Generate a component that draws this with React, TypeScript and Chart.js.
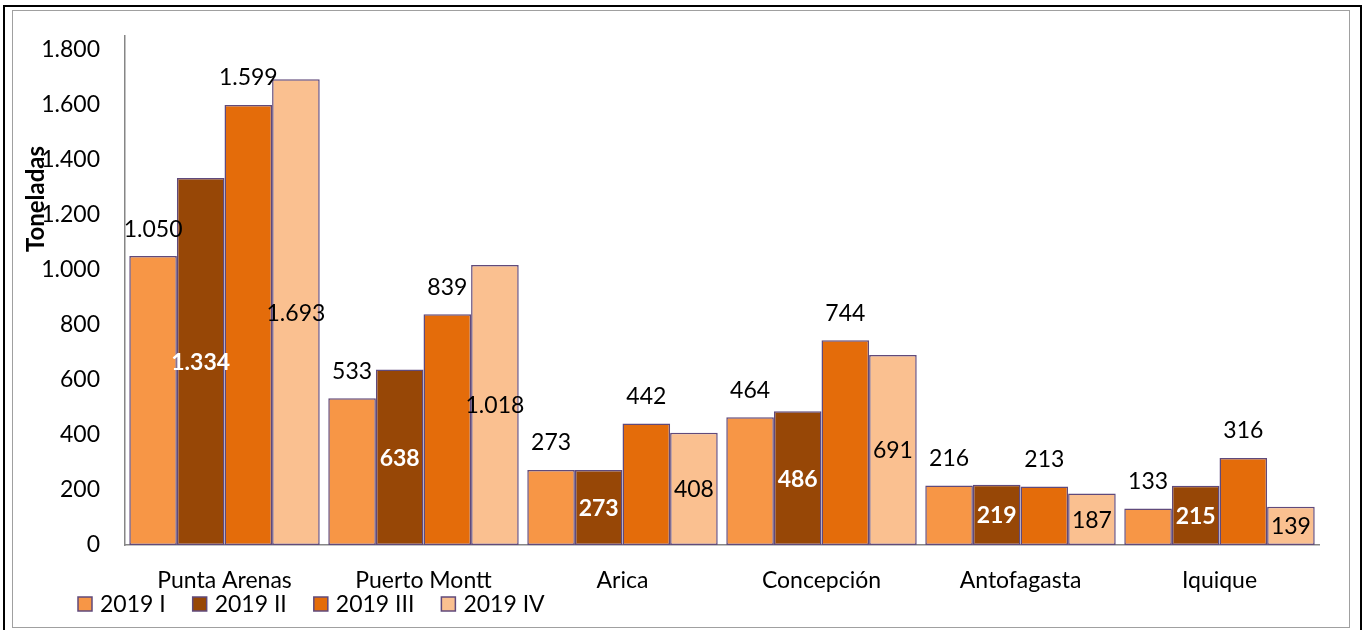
import React, { useEffect, useRef } from "react";
import { Chart, registerables } from "chart.js";

Chart.register(...registerables);

const categories = ["Punta Arenas", "Puerto Montt", "Arica", "Concepción", "Antofagasta", "Iquique"];
const seriesNames = ["2019 I", "2019 II", "2019 III", "2019 IV"];
const q1 = [1050, 533, 273, 464, 216, 133];
const q2 = [1334, 638, 273, 486, 219, 215];
const q3 = [1599, 839, 442, 744, 213, 316];
const q4 = [1693, 1018, 408, 691, 187, 139];
const yTicks = [0, 200, 400, 600, 800, 1000, 1200, 1400, 1600, 1800];
const yTitle = "Toneladas";

const colors = ["#F79646", "#974706", "#E46C0A", "#FAC090"];
const borderColor = "#604A7B";
const FONT = "Lato, 'Open Sans', sans-serif";

const fmt = (v: number) => v.toLocaleString("de-DE");

const labelsPlugin = {
  id: "customLabels",
  afterDatasetsDraw(chart: any) {
    const ctx = chart.ctx;
    ctx.save();
    chart.data.datasets.forEach((ds: any, di: number) => {
      const meta = chart.getDatasetMeta(di);
      meta.data.forEach((bar: any, i: number) => {
        const v = ds.data[i];
        const text = fmt(v);
        ctx.textAlign = "center";
        ctx.textBaseline = "middle";
        if (di === 0 || di === 2) {
          ctx.fillStyle = "#000";
          ctx.font = `23px ${FONT}`;
          ctx.fillText(text, bar.x, bar.y - 27);
        } else if (di === 1) {
          ctx.fillStyle = "#fff";
          ctx.font = `bold 23px ${FONT}`;
          ctx.fillText(text, bar.x, (bar.y + bar.base) / 2 + 1);
        } else {
          ctx.fillStyle = "#000";
          ctx.font = `23px ${FONT}`;
          ctx.fillText(text, bar.x, (bar.y + bar.base) / 2 + 1);
        }
      });
    });
    // axis title
    ctx.save();
    ctx.translate(36, 199);
    ctx.rotate(-Math.PI / 2);
    ctx.font = `bold 24px ${FONT}`;
    ctx.fillStyle = "#000";
    ctx.textAlign = "center";
    ctx.textBaseline = "middle";
    ctx.fillText(yTitle, 0, 0);
    ctx.restore();
    // legend
    let x = 77;
    const y = 596;
    ctx.font = `23px ${FONT}`;
    ctx.textAlign = "left";
    ctx.textBaseline = "middle";
    chart.data.datasets.forEach((ds: any, di: number) => {
      ctx.fillStyle = colors[di];
      ctx.fillRect(x + 1, y + 1, 14, 14);
      ctx.strokeStyle = borderColor;
      ctx.lineWidth = 1.5;
      ctx.strokeRect(x + 1, y + 1, 14, 14);
      ctx.fillStyle = "#000";
      ctx.fillText(ds.label, x + 23, y + 9);
      const w = ctx.measureText(ds.label).width;
      x += 23 + w + 26;
    });
    ctx.restore();
  },
};

export default function App() {
  const ref = useRef<HTMLCanvasElement>(null);
  useEffect(() => {
    if (!ref.current) return;
    const series = [q1, q2, q3, q4];
    const chart = new Chart(ref.current, {
      type: "bar",
      data: {
        labels: categories,
        datasets: series.map((d, i) => ({
          label: seriesNames[i],
          data: d,
          backgroundColor: colors[i],
          borderColor: borderColor,
          borderWidth: 1.5,
          borderSkipped: false,
          categoryPercentage: 0.957,
          barPercentage: 1.0,
        })),
      },
      options: {
        animation: false,
        responsive: false,
        layout: { padding: { left: 0, right: 47, top: 36, bottom: 0 } },
        plugins: { legend: { display: false }, tooltip: { enabled: false } },
        scales: {
          x: {
            grid: { display: false, drawTicks: false },
            border: { display: true, color: "#868686", width: 1.5 },
            ticks: { color: "#000", font: { family: FONT, size: 23 }, padding: 22 },
            afterFit: (s: any) => { s.height = 85; s.paddingLeft = 0; s.paddingRight = 0; },
          },
          y: {
            min: 0,
            max: 1850,
            grid: { display: false, drawTicks: false },
            border: { display: true, color: "#868686", width: 1.5 },
            afterBuildTicks: (s: any) => { s.ticks = yTicks.map((v) => ({ value: v })); },
            ticks: {
              color: "#000",
              font: { family: FONT, size: 23 },
              padding: 25,
              callback: (v: any) => fmt(Number(v)),
            },
            afterFit: (s: any) => { s.width = 125; s.paddingTop = 0; s.paddingBottom = 0; },
          },
        },
      },
      plugins: [labelsPlugin],
    });
    return () => chart.destroy();
  }, []);
  return (
    <div style={{ position: "fixed", left: 0, top: 0, width: 1366, height: 630, background: "#fff", overflow: "hidden" }}>
      <div style={{ position: "absolute", left: 3, top: 5, width: 1359, height: 640, border: "2px solid #000", boxSizing: "border-box" }} />
      <div style={{ position: "absolute", left: 12, top: 10, width: 1338, height: 618, border: "1px solid #A0A0A0", boxSizing: "border-box" }} />
      <canvas ref={ref} width={1366} height={630} style={{ position: "absolute", left: 0, top: 0, width: 1366, height: 630 }} />
    </div>
  );
}
